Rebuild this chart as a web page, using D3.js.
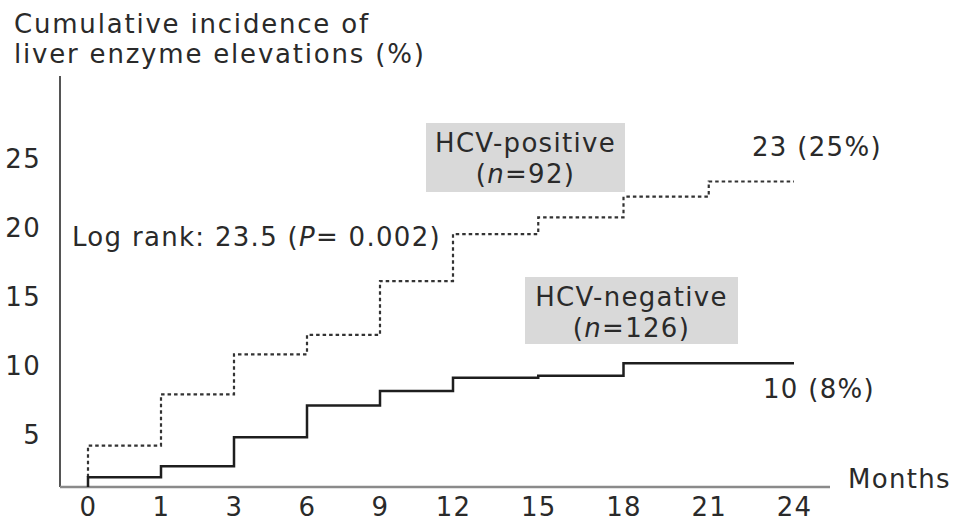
<!DOCTYPE html>
<html>
<head>
<meta charset="utf-8">
<script src="https://cdn.jsdelivr.net/npm/d3@7/dist/d3.min.js"></script>
<style>
	body{margin:0;background:#fff;}
	svg text{font-family:"DejaVu Sans",sans-serif;fill:#2a2a2a;font-size:26px;letter-spacing:1.3px;}
</style>
</head>
<body>
<svg id="chart" width="956" height="523"></svg>
<script>
//刻度
var monthTicks = [0,1,3,6,9,12,15,18,21,24];
var yTicks = [5,10,15,20,25];
//HCV阳性 (虚线)
var posMonths = [0,0,1,3,6,9,12,15,18,21,24];
var posValues = [1.9,4.2,7.9,10.8,12.2,16.1,19.5,20.7,22.2,23.3,23.3];
//HCV阴性 (实线)
var negMonths = [0,0,1,3,6,9,12,15,18,24];
var negValues = [1.2,1.9,2.7,4.8,7.1,8.15,9.1,9.25,10.15,10.15];

var svg = d3.select("svg#chart");
var plotLeft = 60, plotBottom = 487, plotTop = 76, plotRight = 830;

//x轴按刻度序号排列，前后两段间距不同
var xIndex = d3.scaleLinear().domain([0,5,9]).range([88,453,794]);
var x = function(m){ return xIndex(monthTicks.indexOf(m)); };
var y = d3.scaleLinear().domain([1.2,25]).range([plotBottom,158]);

//坐标轴线
svg.append("line")
	.attr("x1",plotLeft).attr("x2",plotLeft)
	.attr("y1",plotTop).attr("y2",plotBottom)
	.attr("stroke","#555").attr("stroke-width",2);
svg.append("line")
	.attr("x1",plotLeft).attr("x2",plotRight)
	.attr("y1",plotBottom).attr("y2",plotBottom)
	.attr("stroke","#8a8a8a").attr("stroke-width",2.5);

//y轴刻度标签
var yAxis = d3.axisLeft(y).tickValues(yTicks).tickSize(0).tickPadding(0);
svg.append("g")
	.attr("transform","translate(41,0)")
	.call(yAxis)
	.call(function(g){ g.select(".domain").remove(); })
	.selectAll("text")
	.attr("dy","0.36em");

//x轴刻度标签
var xAxis = d3.axisBottom(d3.scaleOrdinal().domain(monthTicks).range(monthTicks.map(x)))
	.tickSize(0).tickPadding(0);
svg.append("g")
	.attr("transform","translate(0,"+plotBottom+")")
	.call(xAxis)
	.call(function(g){ g.select(".domain").remove(); })
	.selectAll("text")
	.attr("y",29)
	.attr("dy","0");

//阶梯线
var line = d3.line()
	.x(function(d){ return x(d[0]); })
	.y(function(d){ return y(d[1]); })
	.curve(d3.curveStepAfter);

svg.append("path")
	.datum(d3.zip(posMonths,posValues))
	.attr("d",line)
	.attr("fill","none")
	.attr("stroke","#333")
	.attr("stroke-width",2.2)
	.attr("stroke-dasharray","3.5,3");

svg.append("path")
	.datum(d3.zip(negMonths,negValues))
	.attr("d",line)
	.attr("fill","none")
	.attr("stroke","#1e1e1e")
	.attr("stroke-width",2.5);

//标题
var title = svg.append("text").style("letter-spacing","1.8px");
title.append("tspan").attr("x",14).attr("y",33).text("Cumulative incidence of");
title.append("tspan").attr("x",14).attr("y",63).text("liver enzyme elevations (%)");

svg.append("text").attr("x",848).attr("y",488).text("Months");

//图例框
function labelBox(x0,y0,w,h,name,n){
	svg.append("rect").attr("x",x0).attr("y",y0).attr("width",w).attr("height",h).attr("fill","#d9d9d9");
	var cx = x0 + w/2;
	svg.append("text").attr("x",cx).attr("y",y0+29).attr("text-anchor","middle").text(name);
	var t = svg.append("text").attr("x",cx).attr("y",y0+60).attr("text-anchor","middle");
	t.append("tspan").text("(");
	t.append("tspan").style("font-style","italic").text("n");
	t.append("tspan").text("="+n+")");
}
labelBox(426,123,199,69,"HCV-positive",92);
labelBox(525,277,213,67,"HCV-negative",126);

svg.append("text").attr("x",752).attr("y",156).text("23 (25%)");
svg.append("text").attr("x",763).attr("y",398).text("10 (8%)");

var lr = svg.append("text").attr("x",72).attr("y",246);
lr.append("tspan").text("Log rank: 23.5 (");
lr.append("tspan").style("font-style","italic").text("P");
lr.append("tspan").text("= 0.002)");
</script>
</body>
</html>
